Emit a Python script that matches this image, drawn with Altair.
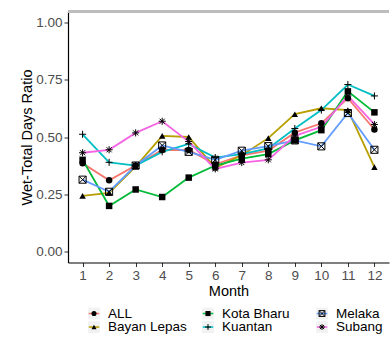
import altair as alt
import pandas as pd

months = list(range(1, 13))
series = ["ALL", "Bayan Lepas", "Kota Bharu", "Kuantan", "Melaka", "Subang"]
colors = ["#F8766D", "#B79F00", "#00BA38", "#00BFC4", "#619CFF", "#F564E3"]

all_vals = [0.385, 0.310, 0.375, 0.443, 0.443, 0.380, 0.420, 0.440, 0.519, 0.560, 0.670, 0.533]
bayan_vals = [0.242, 0.255, 0.370, 0.505, 0.500, 0.365, 0.420, 0.495, 0.600, 0.626, 0.618, 0.368]
kota_vals = [0.400, 0.198, 0.270, 0.237, 0.322, 0.375, 0.405, 0.425, 0.485, 0.530, 0.700, 0.608]
kuantan_vals = [0.512, 0.389, 0.375, 0.435, 0.470, 0.410, 0.425, 0.450, 0.537, 0.618, 0.730, 0.680]
melaka_vals = [0.313, 0.260, 0.375, 0.463, 0.435, 0.400, 0.440, 0.460, 0.485, 0.459, 0.605, 0.444]
subang_vals = [0.431, 0.444, 0.518, 0.569, 0.480, 0.360, 0.388, 0.400, 0.505, 0.545, 0.680, 0.555]

y_ticks = [0.0, 0.25, 0.5, 0.75, 1.0]

PLUS = "M-1,0L1,0M0,-1L0,1"
BOXX = "M-1,-1L1,-1L1,1L-1,1Z M-1,-1L1,1 M-1,1L1,-1"
STAR = "M-1,0L1,0M0,-1L0,1M-0.72,-0.72L0.72,0.72M-0.72,0.72L0.72,-0.72"
shapes = ["circle", "triangle-up", "square", PLUS, BOXX, STAR]
filled_series = ["ALL", "Bayan Lepas", "Kota Bharu"]
open_series = ["Kuantan", "Melaka", "Subang"]

rows = []
for name, vals in zip(series, [all_vals, bayan_vals, kota_vals, kuantan_vals, melaka_vals, subang_vals]):
    for m, v in zip(months, vals):
        rows.append({"Station": name, "Month": m, "Ratio": v})
df = pd.DataFrame(rows)

leg = pd.DataFrame({
    "Station": series,
    "col": [i // 2 for i in range(len(series))],
    "row": [i % 2 for i in range(len(series))],
})

FONT = "Liberation Sans"
W, H = 321, 251

color_scale = alt.Scale(domain=series, range=colors)
shape_scale = alt.Scale(domain=series, range=shapes)

x_enc = alt.X(
    "Month:Q",
    scale=alt.Scale(domain=[0.45, 12.55], nice=False, zero=False),
    axis=alt.Axis(values=months, title="Month", titleY=28.5, titleBaseline="middle"),
)
y_enc = alt.Y(
    "Ratio:Q",
    scale=alt.Scale(domain=[-0.05, 1.05], nice=False, zero=False),
    axis=alt.Axis(values=y_ticks, format=".2f", title="Wet-Total Days Ratio",
                  titleX=-41, titleY=H / 2, titleBaseline="middle"),
)

base = alt.Chart(df)

top_rule = base.mark_rule(color="#bdbdbd", strokeWidth=1.4).encode(
    x=alt.value(0), x2=alt.value(W), y=alt.value(0)
)

lines = base.mark_line(strokeWidth=1.8).encode(
    x=x_enc, y=y_enc,
    color=alt.Color("Station:N", scale=color_scale, legend=None),
    order="Month:Q",
)

pts_filled = base.transform_filter(
    alt.FieldOneOfPredicate(field="Station", oneOf=filled_series)
).mark_point(filled=True, color="black", size=42, opacity=1).encode(
    x=x_enc, y=y_enc,
    shape=alt.Shape("Station:N", scale=shape_scale, legend=None),
)

pts_open = base.transform_filter(
    alt.FieldOneOfPredicate(field="Station", oneOf=open_series)
).mark_point(filled=False, color="black", size=50, strokeWidth=1, opacity=1).encode(
    x=x_enc, y=y_enc,
    shape=alt.Shape("Station:N", scale=shape_scale, legend=None),
)

main = alt.layer(top_rule, lines, pts_filled, pts_open)

# legend drawn from the series list (column / row index through its own scales)
lx = alt.X("col:Q", scale=alt.Scale(domain=[-0.2281, 2.5877], nice=False, zero=False), axis=None)
ly = alt.Y("row:Q", scale=alt.Scale(domain=[-22.37, -3.78], nice=False, zero=False, reverse=True), axis=None)

lbase = alt.Chart(leg)
key_bg = lbase.mark_square(size=140, color="#F2F2F2", opacity=1).encode(x=lx, y=ly)
key_line = lbase.mark_point(shape="M-1,0L1,0", size=110, filled=False, strokeWidth=1.5, opacity=1).encode(
    x=lx, y=ly, color=alt.Color("Station:N", scale=color_scale, legend=None)
)
key_pf = lbase.transform_filter(
    alt.FieldOneOfPredicate(field="Station", oneOf=filled_series)
).mark_point(filled=True, color="black", size=26, opacity=1).encode(
    x=lx, y=ly, shape=alt.Shape("Station:N", scale=shape_scale, legend=None)
)
key_po = lbase.transform_filter(
    alt.FieldOneOfPredicate(field="Station", oneOf=open_series)
).mark_point(filled=False, color="black", size=34, strokeWidth=1, opacity=1).encode(
    x=lx, y=ly, shape=alt.Shape("Station:N", scale=shape_scale, legend=None)
)
key_txt = lbase.mark_text(align="left", baseline="middle", dx=14, fontSize=13.5, font=FONT, color="black").encode(
    x=lx, y=ly, text="Station:N"
)
legend = alt.layer(key_bg, key_line, key_pf, key_po, key_txt)

chart = alt.layer(main, legend).resolve_scale(
    x="independent", y="independent"
).properties(
    width=W, height=H,
    padding={"left": 68, "top": 11.5, "right": 1, "bottom": 75.5},
    autosize=alt.AutoSizeParams(type="none"),
    background="white",
).configure_view(
    stroke=None
).configure_axis(
    grid=False,
    domainColor="black",
    domainWidth=1.2,
    tickColor="#333333",
    tickSize=4,
    tickWidth=1,
    labelColor="#4D4D4D",
    labelFontSize=13.5,
    labelFont=FONT,
    labelPadding=2,
    titleFont=FONT,
    titleFontSize=14.5,
    titleFontWeight="normal",
    titleColor="black",
).configure_text(font=FONT)

chart.save("out.html", embed_options={"renderer": "svg", "actions": False})
